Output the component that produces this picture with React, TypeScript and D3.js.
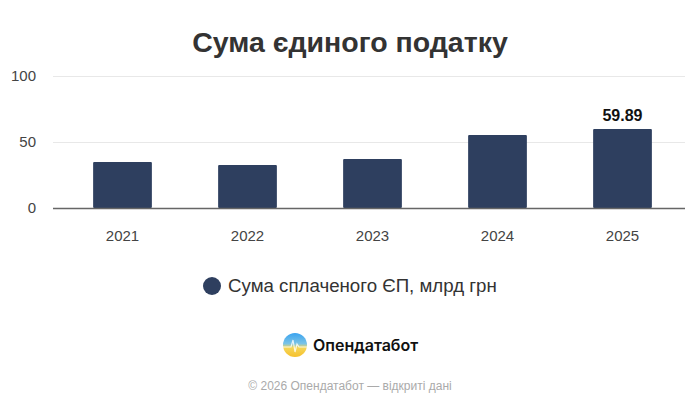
import * as d3 from 'd3';
import { useEffect, useRef } from 'react';

const years = ['2021', '2022', '2023', '2024', '2025'];
const values = [34.8, 32.6, 37.1, 55.3, 59.89];
const yTicks = [0, 50, 100];

const TITLE = 'Сума єдиного податку';
const LEGEND = 'Сума сплаченого ЄП, млрд грн';
const BRAND = 'Опендатабот';
const FOOTER = '© 2026 Опендатабот — відкриті дані';

const W = 700;
const H = 408;
const BAR = '#2e3f5f';
const SANS = 'Liberation Sans, Arial, sans-serif';

const App = () => {
    const ref = useRef<SVGSVGElement | null>(null);

    useEffect(() => {
        document.body.style.margin = '0';
        if (!ref.current) return;
        const svg = d3.select(ref.current);
        svg.selectAll('*').remove();

        const x = d3.scaleBand().domain(years).range([60, 685]).paddingInner(0.53).paddingOuter(0.265);
        const y = d3.scaleLinear().domain([0, 100]).range([208, 76]);

        svg.append('rect').attr('width', W).attr('height', H).attr('fill', '#fff');

        svg.append('text')
            .attr('x', W / 2)
            .attr('y', 52)
            .attr('text-anchor', 'middle')
            .style('font-family', SANS)
            .style('font-weight', 'bold')
            .style('font-size', '28.5px')
            .attr('fill', '#333')
            .text(TITLE);

        // grid
        svg.append('g')
            .selectAll('line')
            .data(yTicks.filter((t) => t !== 0))
            .join('line')
            .attr('x1', 53)
            .attr('x2', 685)
            .attr('y1', (d) => y(d) + 0.5)
            .attr('y2', (d) => y(d) + 0.5)
            .attr('stroke', '#e8e8e8');

        svg.append('g')
            .selectAll('text')
            .data(yTicks)
            .join('text')
            .attr('x', 36)
            .attr('y', (d) => y(d) + 5)
            .attr('text-anchor', 'end')
            .style('font-family', SANS)
            .style('font-size', '15px')
            .attr('fill', '#444')
            .text((d) => d);

        svg.append('g')
            .selectAll('rect')
            .data(values)
            .join('rect')
            .attr('x', (_, i) => x(years[i])!)
            .attr('width', x.bandwidth())
            .attr('y', (d) => y(d))
            .attr('height', (d) => y(0) - y(d))
            .attr('rx', 1)
            .attr('fill', BAR);

        svg.append('line')
            .attr('x1', 53)
            .attr('x2', 685)
            .attr('y1', y(0) + 0.5)
            .attr('y2', y(0) + 0.5)
            .attr('stroke', '#666')
            .attr('stroke-width', 1.3);

        svg.append('g')
            .selectAll('text')
            .data(years)
            .join('text')
            .attr('x', (d) => x(d)! + x.bandwidth() / 2)
            .attr('y', 241)
            .attr('text-anchor', 'middle')
            .style('font-family', SANS)
            .style('font-size', '15px')
            .attr('fill', '#444')
            .text((d) => d);

        const last = values.length - 1;
        svg.append('text')
            .attr('x', x(years[last])! + x.bandwidth() / 2)
            .attr('y', y(values[last]) - 8)
            .attr('text-anchor', 'middle')
            .style('font-family', SANS)
            .style('font-weight', 'bold')
            .style('font-size', '16px')
            .attr('fill', '#111')
            .text(values[last].toFixed(2));

        // legend
        svg.append('circle').attr('cx', 212).attr('cy', 286).attr('r', 9).attr('fill', BAR);
        svg.append('text')
            .attr('x', 228)
            .attr('y', 292)
            .style('font-family', SANS)
            .style('font-size', '18.7px')
            .attr('fill', '#333')
            .text(LEGEND);

        // logo
        const defs = svg.append('defs');
        const grad = defs.append('linearGradient').attr('id', 'lg').attr('x1', 0).attr('y1', 0).attr('x2', 0).attr('y2', 1);
        grad.append('stop').attr('offset', '0%').attr('stop-color', '#3aa3f0');
        grad.append('stop').attr('offset', '45%').attr('stop-color', '#7cc4e6');
        grad.append('stop').attr('offset', '60%').attr('stop-color', '#f5d75a');
        grad.append('stop').attr('offset', '100%').attr('stop-color', '#f6c02c');
        svg.append('circle').attr('cx', 295).attr('cy', 345).attr('r', 12).attr('fill', 'url(#lg)');
        svg.append('path')
            .attr('d', 'M283,347 L291,347 L293,340 L295,352 L297,344 L299,347 L307,347')
            .attr('fill', 'none')
            .attr('stroke', '#fff')
            .attr('stroke-width', 1.2)
            .attr('opacity', 0.8);
        svg.append('text')
            .attr('x', 313)
            .attr('y', 351)
            .style('font-family', 'Inter, Roboto, sans-serif')
            .style('font-weight', '600')
            .style('font-size', '16px')
            .attr('fill', '#111')
            .text(BRAND);

        svg.append('text')
            .attr('x', W / 2)
            .attr('y', 390)
            .attr('text-anchor', 'middle')
            .style('font-family', SANS)
            .style('font-size', '12px')
            .attr('fill', '#aaa')
            .text(FOOTER);
    }, []);

    return <svg ref={ref} width={W} height={H} style={{ display: 'block' }}></svg>;
};

export default App;
